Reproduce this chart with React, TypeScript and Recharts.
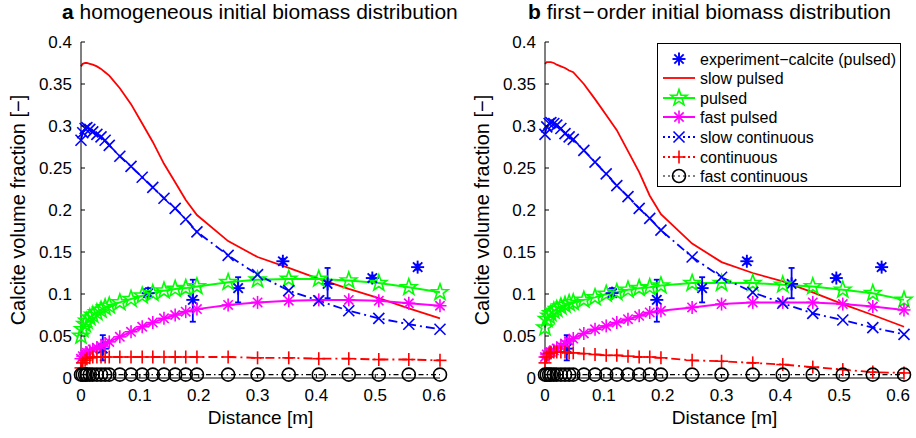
import React from 'react';
import { ComposedChart, Line, Scatter, XAxis, YAxis, ErrorBar, Legend } from 'recharts';

// model grid (m)
const distance = [0, 0.003, 0.007, 0.01, 0.015, 0.02, 0.027, 0.034, 0.041, 0.048, 0.066, 0.085, 0.104, 0.122, 0.141, 0.16, 0.178, 0.197, 0.25, 0.3, 0.353, 0.404, 0.455, 0.506, 0.557, 0.61];

// experiment (pulsed) with error bars
const expDistance = [0.037, 0.114, 0.19, 0.267, 0.343, 0.419, 0.495, 0.572];
const expCalcite = [0.035, 0.101, 0.093, 0.107, 0.139, 0.112, 0.119, 0.132];
const expErrLow = [0.014, 0.004, 0.026, 0.017, 0.003, 0.017, 0.002, 0.003];
const expErrHigh = [0.016, 0.006, 0.024, 0.013, 0.003, 0.019, 0.003, 0.003];

// panel a: homogeneous initial biomass
const aSlowPulsed = [0.371, 0.374, 0.375, 0.375, 0.374, 0.373, 0.371, 0.368, 0.364, 0.36, 0.345, 0.326, 0.303, 0.281, 0.255, 0.233, 0.212, 0.194, 0.163, 0.144, 0.131, 0.118, 0.106, 0.095, 0.083, 0.071];
const aPulsed = [0.05, 0.058, 0.064, 0.068, 0.072, 0.075, 0.078, 0.081, 0.084, 0.086, 0.09, 0.094, 0.098, 0.101, 0.104, 0.106, 0.107, 0.109, 0.114, 0.117, 0.118, 0.118, 0.116, 0.113, 0.108, 0.102];
const aFastPulsed = [0.023, 0.026, 0.028, 0.03, 0.032, 0.034, 0.036, 0.038, 0.041, 0.043, 0.049, 0.055, 0.061, 0.066, 0.071, 0.075, 0.079, 0.082, 0.087, 0.09, 0.092, 0.093, 0.093, 0.092, 0.089, 0.086];
const aSlowCont = [0.283, 0.292, 0.297, 0.298, 0.296, 0.293, 0.29, 0.287, 0.283, 0.277, 0.264, 0.252, 0.239, 0.227, 0.214, 0.202, 0.189, 0.174, 0.146, 0.123, 0.104, 0.092, 0.08, 0.071, 0.064, 0.058];
const aCont = [0.012, 0.018, 0.021, 0.023, 0.024, 0.025, 0.025, 0.025, 0.025, 0.025, 0.025, 0.025, 0.025, 0.025, 0.025, 0.025, 0.025, 0.025, 0.025, 0.024, 0.024, 0.023, 0.023, 0.022, 0.022, 0.021];
const aFastCont = [0.004, 0.004, 0.004, 0.004, 0.004, 0.004, 0.004, 0.004, 0.004, 0.004, 0.004, 0.004, 0.004, 0.004, 0.004, 0.004, 0.004, 0.004, 0.004, 0.004, 0.004, 0.004, 0.004, 0.004, 0.004, 0.004];

// panel b: first-order initial biomass
const bSlowPulsed = [0.374, 0.376, 0.376, 0.376, 0.375, 0.373, 0.371, 0.369, 0.366, 0.364, 0.35, 0.332, 0.313, 0.295, 0.27, 0.245, 0.217, 0.195, 0.16, 0.138, 0.125, 0.115, 0.102, 0.088, 0.075, 0.061];
const bPulsed = [0.06, 0.07, 0.074, 0.077, 0.08, 0.082, 0.085, 0.087, 0.089, 0.09, 0.093, 0.096, 0.1, 0.102, 0.105, 0.107, 0.108, 0.11, 0.113, 0.113, 0.113, 0.111, 0.109, 0.105, 0.101, 0.093];
const bFastPulsed = [0.025, 0.028, 0.03, 0.031, 0.033, 0.035, 0.038, 0.041, 0.044, 0.047, 0.053, 0.058, 0.062, 0.066, 0.07, 0.074, 0.078, 0.08, 0.084, 0.088, 0.09, 0.09, 0.09, 0.088, 0.085, 0.081];
const bSlowCont = [0.29, 0.299, 0.303, 0.304, 0.303, 0.301, 0.297, 0.291, 0.287, 0.284, 0.271, 0.257, 0.243, 0.229, 0.216, 0.202, 0.19, 0.176, 0.144, 0.12, 0.102, 0.089, 0.077, 0.069, 0.06, 0.052];
const bCont = [0.018, 0.025, 0.029, 0.03, 0.031, 0.031, 0.031, 0.031, 0.03, 0.03, 0.029, 0.028, 0.027, 0.027, 0.026, 0.025, 0.025, 0.024, 0.021, 0.02, 0.018, 0.016, 0.013, 0.01, 0.007, 0.006];
const bFastCont = [0.004, 0.004, 0.004, 0.004, 0.004, 0.004, 0.004, 0.004, 0.004, 0.004, 0.004, 0.004, 0.004, 0.004, 0.004, 0.004, 0.004, 0.004, 0.004, 0.004, 0.004, 0.004, 0.004, 0.004, 0.004, 0.004];

const xTicks = [0, 0.1, 0.2, 0.3, 0.4, 0.5, 0.6];
const yTicks = [0, 0.05, 0.1, 0.15, 0.2, 0.25, 0.3, 0.35, 0.4];

const FONT = '"Liberation Sans", Arial, Helvetica, sans-serif';
const fmt = (v: number) => String(Number(v.toFixed(2)));

type Kind = 'star' | 'asterisk' | 'x' | 'plus' | 'circle' | 'exp';

const starPath = (cx: number, cy: number, r: number) => {
  const pts: string[] = [];
  for (let k = 0; k < 10; k++) {
    const rr = k % 2 === 0 ? r : r * 0.4;
    const a = -Math.PI / 2 + (k * Math.PI) / 5;
    pts.push(`${(cx + rr * Math.cos(a)).toFixed(2)},${(cy + rr * Math.sin(a)).toFixed(2)}`);
  }
  return 'M' + pts.join('L') + 'Z';
};

const Marker = ({ kind, cx, cy, color }: { kind: Kind; cx: number; cy: number; color: string }) => {
  if (cx == null || cy == null) return null;
  if (kind === 'star') {
    return <path d={starPath(cx, cy, 8.5)} fill="none" stroke={color} strokeWidth={1.6} />;
  }
  if (kind === 'circle') {
    return <circle cx={cx} cy={cy} r={6.5} fill="none" stroke={color} strokeWidth={1.6} />;
  }
  if (kind === 'plus') {
    const r = 6.5;
    return (
      <g stroke={color} strokeWidth={1.6}>
        <line x1={cx - r} x2={cx + r} y1={cy} y2={cy} />
        <line x1={cx} x2={cx} y1={cy - r} y2={cy + r} />
      </g>
    );
  }
  if (kind === 'x') {
    const r = 5.5;
    return (
      <g stroke={color} strokeWidth={1.6}>
        <line x1={cx - r} x2={cx + r} y1={cy - r} y2={cy + r} />
        <line x1={cx - r} x2={cx + r} y1={cy + r} y2={cy - r} />
      </g>
    );
  }
  // asterisk (model) or experiment asterisk
  const r = 6.5;
  const d = r * 0.72;
  const w = kind === 'exp' ? 1.9 : 1.6;
  return (
    <g stroke={color} strokeWidth={w}>
      <line x1={cx - r} x2={cx + r} y1={cy} y2={cy} />
      <line x1={cx} x2={cx} y1={cy - r} y2={cy + r} />
      <line x1={cx - d} x2={cx + d} y1={cy - d} y2={cy + d} />
      <line x1={cx - d} x2={cx + d} y1={cy + d} y2={cy - d} />
    </g>
  );
};

const series = [
  { key: 'slowPulsed', name: 'slow pulsed', color: '#ff0000', dash: undefined, marker: null as Kind | null, width: 1.8 },
  { key: 'pulsed', name: 'pulsed', color: '#00ff00', dash: undefined, marker: 'star' as Kind, width: 2 },
  { key: 'fastPulsed', name: 'fast pulsed', color: '#ff00ff', dash: undefined, marker: 'asterisk' as Kind, width: 2 },
  { key: 'slowCont', name: 'slow continuous', color: '#0000ff', dash: '9 4 2 4', marker: 'x' as Kind, width: 1.8 },
  { key: 'cont', name: 'continuous', color: '#ff0000', dash: '9 4 2 4', marker: 'plus' as Kind, width: 1.8 },
  { key: 'fastCont', name: 'fast continuous', color: '#000000', dash: '5 3 1.5 3', marker: 'circle' as Kind, width: 1.2 },
];

const expData = expDistance.map((x, i) => ({ x, calcite: expCalcite[i], err: [expErrLow[i], expErrHigh[i]] }));

const buildRows = (cols: Record<string, number[]>) =>
  distance.map((x, i) => {
    const row: Record<string, number> = { x };
    Object.keys(cols).forEach((k) => (row[k] = cols[k][i]));
    return row;
  });

const dataA = buildRows({ slowPulsed: aSlowPulsed, pulsed: aPulsed, fastPulsed: aFastPulsed, slowCont: aSlowCont, cont: aCont, fastCont: aFastCont });
const dataB = buildRows({ slowPulsed: bSlowPulsed, pulsed: bPulsed, fastPulsed: bFastPulsed, slowCont: bSlowCont, cont: bCont, fastCont: bFastCont });

const TICK_FS = 17;

const BottomTick = (p: any) => (
  <g>
    <line x1={p.x} x2={p.x} y1={p.y - 11} y2={p.y - 15} stroke="#000" />
    <text x={p.x} y={p.y} dy="0.72em" textAnchor="middle" fontSize={TICK_FS} fontFamily={FONT} fill="#000">
      {fmt(p.payload.value)}
    </text>
  </g>
);
const LeftTick = (p: any) => (
  <g>
    <line x1={p.x + 9} x2={p.x + 13} y1={p.y} y2={p.y} stroke="#000" />
    <text x={p.x} y={p.y} dy="0.36em" textAnchor="end" fontSize={TICK_FS} fontFamily={FONT} fill="#000">
      {fmt(p.payload.value)}
    </text>
  </g>
);
const TopTick = (p: any) => <line x1={p.x} x2={p.x} y1={p.y} y2={p.y + 4} stroke="#000" />;
const RightTick = (p: any) => <line x1={p.x} x2={p.x - 4} y1={p.y} y2={p.y} stroke="#000" />;

const LegendBox = () => {
  const rows = [16, 35, 55, 74, 94, 114, 133];
  return (
    <svg width={244} height={144} style={{ display: 'block' }}>
      <rect x={0.5} y={0.5} width={243} height={143} fill="#fff" stroke="#000" />
      <Marker kind="exp" cx={22} cy={rows[0]} color="#0000ff" />
      <text x={43} y={rows[0]} dy="0.36em" fontSize={16} fontFamily={FONT}>experiment−calcite (pulsed)</text>
      {series.map((s, i) => (
        <g key={s.key}>
          <line x1={6} x2={38} y1={rows[i + 1]} y2={rows[i + 1]} stroke={s.color} strokeWidth={s.width} strokeDasharray={s.dash ? '2 3' : undefined} />
          {s.marker && <Marker kind={s.marker} cx={22} cy={rows[i + 1]} color={s.color} />}
          <text x={43} y={rows[i + 1]} dy="0.36em" fontSize={16} fontFamily={FONT}>{s.name}</text>
        </g>
      ))}
    </svg>
  );
};

const Panel = ({ data, width, left, titleLeft, title, legend }: { data: any[]; width: number; left: number; titleLeft: number; title: React.ReactNode; legend?: boolean }) => (
  <div style={{ position: 'absolute', left, top: 0, width, height: 438 }}>
    <div style={{ position: 'absolute', left: titleLeft, top: 0, whiteSpace: 'nowrap', fontSize: 21, fontFamily: FONT }}>
      {title}
    </div>
    <ComposedChart width={width} height={438} data={data} margin={{ top: 42, right: width - 440, bottom: 0, left: 0 }}>
      <XAxis dataKey="x" type="number" domain={[0, 0.61]} ticks={xTicks} height={60} tickSize={0} tickMargin={11}
        tick={BottomTick} axisLine={{ stroke: '#000' }} tickLine={false}
        label={{ value: 'Distance [m]', position: 'insideBottom', offset: 14, fontSize: 19, fontFamily: FONT, fill: '#000' }} />
      <XAxis xAxisId="top" orientation="top" dataKey="x" type="number" domain={[0, 0.61]} ticks={xTicks} height={0}
        tickSize={0} tickMargin={0} tick={TopTick} axisLine={{ stroke: '#000' }} tickLine={false} />
      <YAxis type="number" domain={[0, 0.4]} ticks={yTicks} width={81} tickSize={0} tickMargin={9}
        tick={LeftTick} axisLine={{ stroke: '#000' }} tickLine={false}
        label={{ value: 'Calcite volume fraction [−]', angle: -90, position: 'insideLeft', offset: 18, fontSize: 20, fontFamily: FONT, fill: '#000', style: { textAnchor: 'middle' } }} />
      <YAxis yAxisId="right" orientation="right" type="number" domain={[0, 0.4]} ticks={yTicks} width={0}
        tickSize={0} tickMargin={0} tick={RightTick} axisLine={{ stroke: '#000' }} tickLine={false} />
      <Scatter data={expData} dataKey="calcite" isAnimationActive={false}
        shape={(p: any) => <Marker kind="exp" cx={p.cx} cy={p.cy} color="#0000ff" />}>
        <ErrorBar dataKey="err" direction="y" width={3} stroke="#0000ff" strokeWidth={1.8} isAnimationActive={false} />
      </Scatter>
      {series.map((s) => (
        <Line key={s.key} dataKey={s.key} type="linear" stroke={s.color} strokeWidth={s.width}
          strokeDasharray={s.dash} isAnimationActive={false} activeDot={false}
          dot={s.marker ? (p: any) => <Marker key={p.index} kind={s.marker as Kind} cx={p.cx} cy={p.cy} color={s.color} /> : false} />
      ))}
      {legend && (
        <Legend layout="vertical" align="center" verticalAlign="middle" content={() => <LegendBox />}
          wrapperStyle={{ left: 193, top: 43, width: 244, height: 144 }} />
      )}
    </ComposedChart>
  </div>
);

export default function App() {
  return (
    <div style={{ position: 'absolute', left: 0, top: 0, width: 916, height: 438, background: '#fff', fontFamily: FONT }}>
      <Panel data={dataA} width={460} left={0} titleLeft={62}
        title={<><b>a</b> homogeneous initial biomass distribution</>} />
      <Panel data={dataB} width={452} left={464} titleLeft={64} legend
        title={<><b>b</b> first<span style={{ margin: '0 2px' }}>−</span>order initial biomass distribution</>} />
    </div>
  );
}
